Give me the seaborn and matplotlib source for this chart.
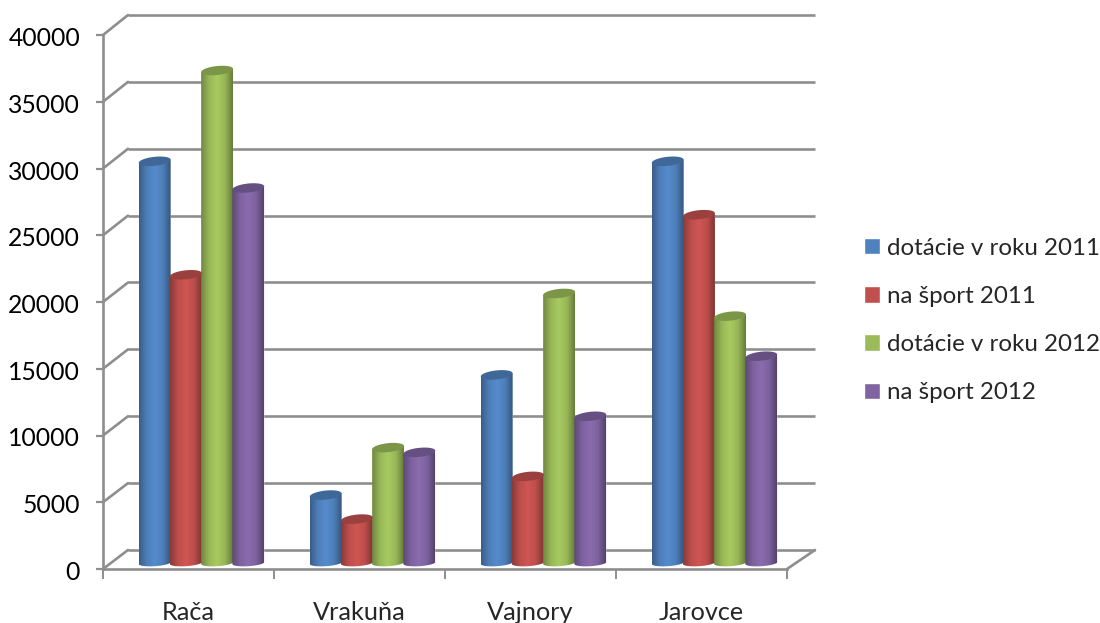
import numpy as np
import pandas as pd
import matplotlib
matplotlib.use("Agg")
import matplotlib.pyplot as plt
import seaborn as sns
from matplotlib.colors import LinearSegmentedColormap, to_rgb
from matplotlib.patches import Polygon, ConnectionPatch
from matplotlib.transforms import ScaledTranslation

districts = ["Rača", "Vrakuňa", "Vajnory", "Jarovce"]
dotacie_2011 = [30000, 5000, 14000, 30000]
sport_2011 = [21500, 3200, 6400, 26000]
dotacie_2012 = [36800, 8550, 20100, 18400]
sport_2012 = [28000, 8200, 10900, 15400]
series_names = ["dotácie v roku 2011", "na šport 2011", "dotácie v roku 2012", "na šport 2012"]
colors = ["#4F81BD", "#C0504D", "#9BBB59", "#8064A2"]
y_ticks = [0, 5000, 10000, 15000, 20000, 25000, 30000, 35000, 40000]

sns.set_theme(style="white")
plt.rcParams["font.family"] = ["Lato", "DejaVu Sans"]
GRAY = "#8E8E8E"
LW = 1.9
W, H = 1100, 623
fig = plt.figure(figsize=(W / 100, H / 100), dpi=100)
px_v = 40000 / 534


def axes_px(x0, x1, ytop, ybot, ymin=0):
    a = fig.add_axes([x0 / W, 1 - ybot / H, (x1 - x0) / W, (ybot - ytop) / H])
    a.set_xlim(-0.5, 3.5)
    a.set_ylim(ymin, 40000)
    a.patch.set_alpha(0)
    return a


# back wall and gridlines
wall = axes_px(128, 815, 15, 550)
wall.set_yticks(y_ticks)
wall.set_xticks([])
wall.tick_params(left=False, labelleft=False)
wall.grid(axis="y", color=GRAY, lw=LW, clip_on=False)
for line in wall.get_ygridlines():
    line.set_clip_on(False)
    line.set_solid_capstyle("butt")
for s in wall.spines.values():
    s.set_visible(False)

# front axes
ax = axes_px(103, 787, 35, 569)
ax.set_yticks(y_ticks)
ax.set_yticklabels([str(v) for v in y_ticks], fontsize=17.8, color="black")
ax.set_xticks(np.arange(-0.5, 4, 1))
ax.set_xticklabels([])
ax.tick_params(axis="y", length=5, width=LW - 0.3, color=GRAY, left=True, pad=11.5)
ax.tick_params(axis="x", length=7, width=LW - 0.5, color=GRAY, bottom=True)
label_shift = ScaledTranslation(0, -1.5 / 100, fig.dpi_scale_trans)
for lab in ax.get_yticklabels():
    lab.set_transform(lab.get_transform() + label_shift)
for i, name in enumerate(districts):
    fig.text((103 + 171 * (i + 0.5)) / W, 1 - 612.5 / H, name, fontsize=18.2, ha="center", va="center")
ax.spines["top"].set_visible(False)
ax.spines["right"].set_visible(False)
for k in ("left", "bottom"):
    ax.spines[k].set_color(GRAY)
    ax.spines[k].set_linewidth(LW)

# perspective connectors
links = [((-0.5, v), (-0.5, v)) for v in y_ticks] + [((3.5, 0), (3.5, 0))]
for a_pt, b_pt in links:
    fig.add_artist(ConnectionPatch(xyA=a_pt, coordsA=ax.transData, xyB=b_pt, coordsB=wall.transData,
                                   color=GRAY, lw=LW))

# bars
bax = axes_px(116, 800, 29, 573, ymin=-10 * px_v)
df = pd.DataFrame({
    "district": districts * 4,
    "series": np.repeat(series_names, 4),
    "value": dotacie_2011 + sport_2011 + dotacie_2012 + sport_2012,
})
sns.barplot(data=df, x="district", y="value", hue="series", order=districts, hue_order=series_names,
            palette=colors, width=0.73, gap=0, saturation=1, errorbar=None, ax=bax)
handles, labels = bax.get_legend_handles_labels()
bax.get_legend().remove()
bax.axis("off")

t_low = np.linspace(np.pi, 2 * np.pi, 40)
t_all = np.linspace(0, 2 * np.pi, 80)
lift = 1.2 * px_v
for cont, col in zip(bax.containers, colors):
    rgb = np.array(to_rgb(col))
    cmap = LinearSegmentedColormap.from_list(
        "c", [rgb * 0.72, rgb * 0.98, np.minimum(rgb * 1.08, 1), rgb * 0.98, rgb * 0.66], N=128)
    for bar in cont:
        x0, w, h = bar.get_x(), bar.get_width(), bar.get_height()
        cx, a = x0 + w / 2, w / 2 + 0.002
        bottom_x = cx + a * np.cos(t_low)
        bottom_y = 3.2 * px_v * np.sin(t_low) + 1.0 * px_v * np.cos(t_low)
        top_x = cx + a * np.cos(t_all)
        top_y = h + lift + 4.5 * px_v * np.sin(t_all) + 1.6 * px_v * np.cos(t_all)
        body = Polygon(np.r_[np.c_[bottom_x, bottom_y],
                             [[cx + a, h + lift + 1.6 * px_v], [cx - a, h + lift - 1.6 * px_v]]],
                       closed=True, facecolor="none", edgecolor="none", transform=bax.transData)
        bax.add_patch(body)
        bar.set_clip_path(body)
        im = bax.imshow(np.linspace(0, 1, 128)[None, :], cmap=cmap, aspect="auto", vmin=0, vmax=1,
                        extent=(cx - a, cx + a, -6 * px_v, h + 4 * px_v), zorder=3, interpolation="bilinear")
        im.set_clip_path(body)
        bax.fill(top_x, top_y, color=rgb * 0.8, lw=0, zorder=4, clip_on=False)
bax.set_xlim(-0.5, 3.5)
bax.set_ylim(-10 * px_v, 40000)

# legend
fig.legend(handles, labels, loc="center left", bbox_to_anchor=(864 / W, 1 - 320.5 / H), frameon=False,
           fontsize=17.4, handlelength=0.66, handleheight=0.66, handletextpad=0.3, labelspacing=1.125,
           borderpad=0, borderaxespad=0)

fig.savefig("out.png", dpi=100)
